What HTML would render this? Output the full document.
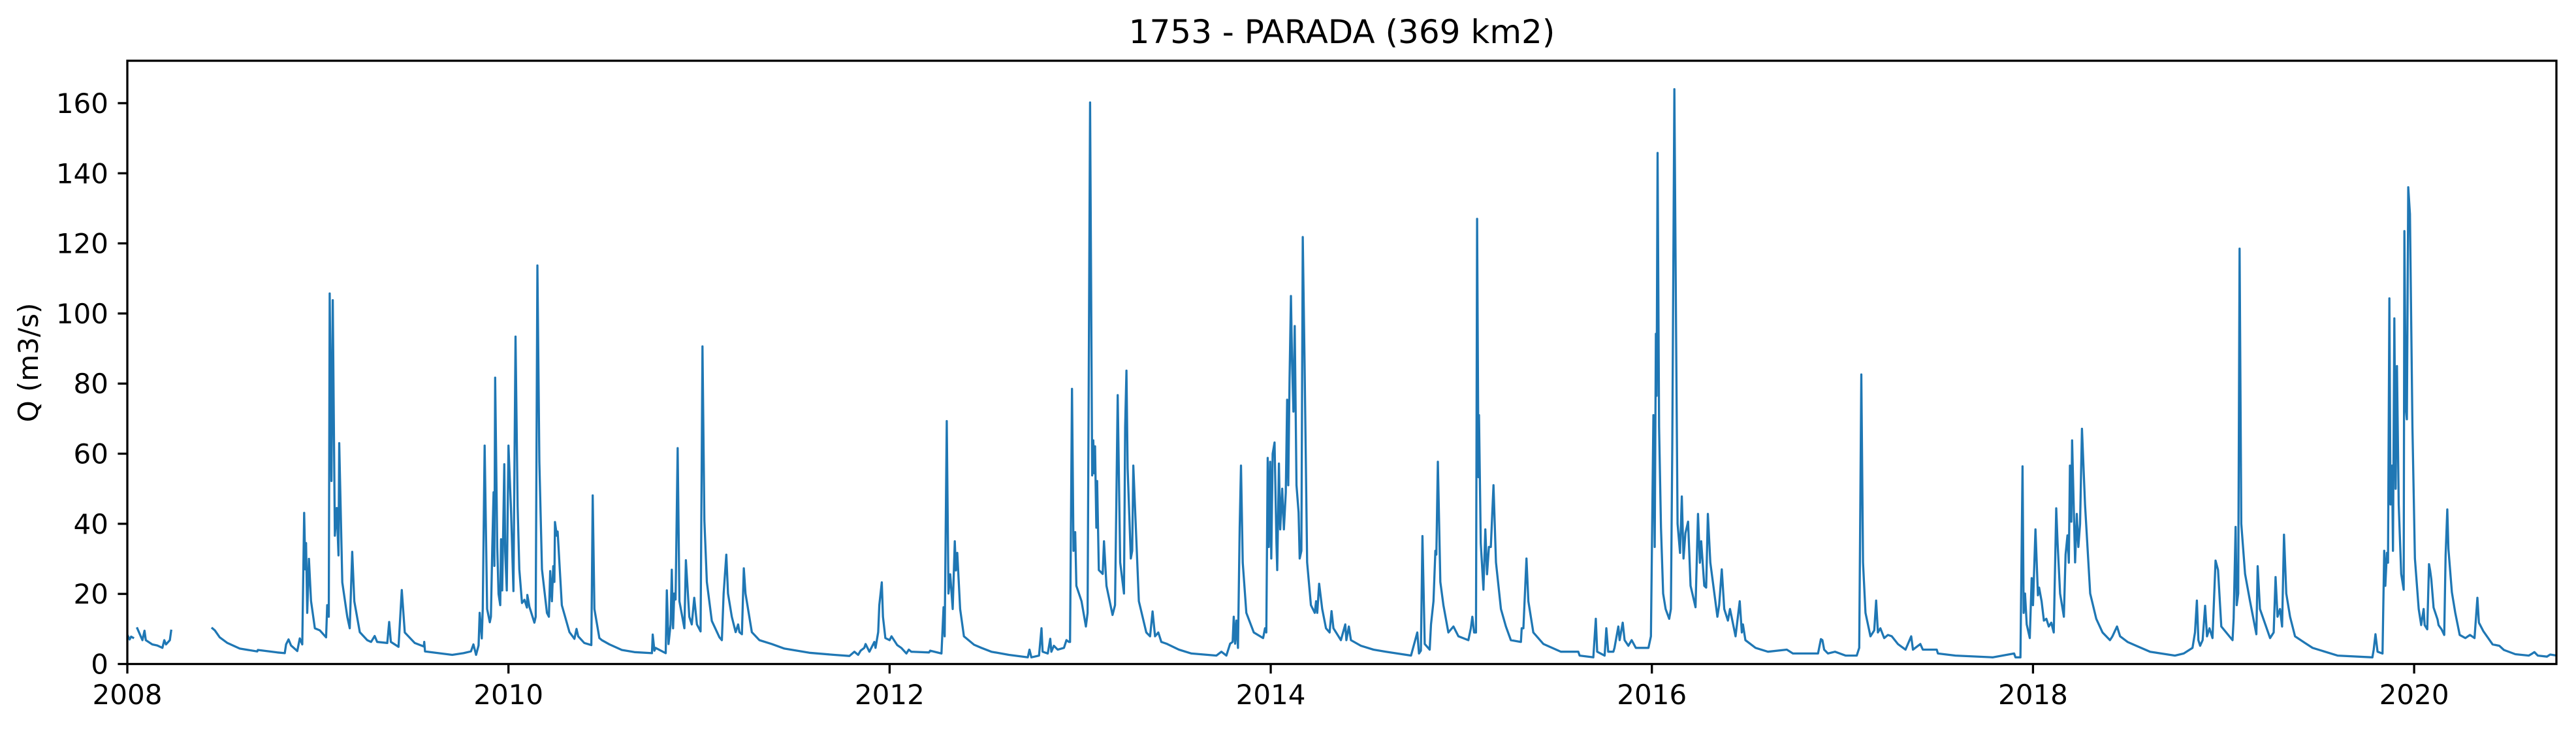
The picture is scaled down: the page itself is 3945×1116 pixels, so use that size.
<!DOCTYPE html>
<html><head><meta charset="utf-8"><title>1753 - PARADA (369 km2)</title>
<style>html,body{margin:0;padding:0;background:#fff}svg{display:block}text{font-family:"DejaVu Sans","Liberation Sans",sans-serif;fill:#000}</style>
</head><body>
<svg id="chart" width="3945" height="1116" viewBox="0 0 3945 1116" xmlns="http://www.w3.org/2000/svg">
<rect x="0" y="0" width="3945" height="1116" fill="#fff"/>
<text x="2055" y="66" font-size="50" text-anchor="middle">1753 - PARADA (369 km2)</text>
<text transform="translate(58,555) rotate(-90)" font-size="42" text-anchor="middle">Q (m3/s)</text>
<g id="xticks"></g>
<g id="yticks"></g>
<clipPath id="clip"><rect x="195" y="93" width="3720" height="923.5"/></clipPath>
<path id="series" clip-path="url(#clip)" fill="none" stroke="#1f77b4" stroke-width="3.3" stroke-linejoin="round" stroke-linecap="square"/>
<rect x="195" y="93" width="3720" height="923.5" fill="none" stroke="#000" stroke-width="3.3"/>
</svg>
<script>
const xTickYears = [2008, 2010, 2012, 2014, 2016, 2018, 2020];
const xTickLabels = ["2008", "2010", "2012", "2014", "2016", "2018", "2020"];
const yTickValues = [0, 20, 40, 60, 80, 100, 120, 140, 160];
const yTickLabels = ["0", "20", "40", "60", "80", "100", "120", "140", "160"];
const dates = [
2008.003,2008.012,2008.020,2008.030,2008.040,
2008.052,2008.079,2008.090,2008.097,2008.131,2008.157,2008.184,2008.194,2008.203,2008.223,2008.230,2008.300,
2008.446,2008.459,2008.485,2008.525,2008.590,2008.682,2008.685,2008.787,2008.826,2008.833,2008.846,2008.859,2008.892,2008.905,2008.918,2008.928,2008.934,2008.938,2008.944,2008.953,2008.964,2008.984,
2009.010,2009.043,2009.049,2009.057,2009.062,2009.071,2009.078,2009.089,2009.099,2009.108,2009.112,2009.128,2009.154,2009.167,2009.180,2009.191,2009.220,2009.259,2009.279,2009.298,2009.311,2009.364,2009.374,2009.383,2009.423,2009.440,2009.456,2009.508,2009.556,2009.558,2009.562,2009.705,2009.764,2009.803,2009.816,2009.830,2009.843,2009.849,2009.860,2009.865,2009.875,2009.888,2009.902,2009.908,2009.915,2009.922,2009.926,2009.930,2009.941,2009.948,2009.957,2009.961,2009.967,2009.978,2009.983,2009.991,
2010.000,2010.013,2010.026,2010.037,2010.048,2010.057,2010.071,2010.084,2010.097,2010.099,2010.110,2010.136,2010.143,2010.152,2010.162,2010.176,2010.202,2010.212,2010.219,2010.228,2010.235,2010.241,2010.244,2010.254,2010.258,2010.280,2010.320,2010.346,2010.357,2010.366,2010.398,2010.435,2010.442,2010.451,2010.477,2010.490,2010.530,2010.595,2010.661,2010.753,2010.757,2010.766,2010.772,2010.825,2010.831,2010.840,2010.851,2010.857,2010.864,2010.870,2010.877,2010.888,2010.897,2010.923,2010.931,2010.949,2010.962,2010.975,2010.989,
2011.008,2011.018,2011.028,2011.041,2011.067,2011.107,2011.120,2011.129,2011.143,2011.152,2011.172,2011.192,2011.205,2011.212,2011.225,2011.235,2011.244,2011.277,2011.317,2011.382,2011.448,2011.579,2011.710,2011.789,2011.815,2011.835,2011.848,2011.867,2011.874,2011.894,2011.920,2011.926,2011.940,2011.946,2011.959,2011.965,2011.978,
2012.000,2012.010,2012.040,2012.061,2012.088,2012.101,2012.114,2012.207,2012.213,2012.272,2012.283,2012.289,2012.300,2012.309,2012.318,2012.331,2012.342,2012.348,2012.355,2012.370,2012.390,2012.443,2012.482,2012.534,2012.626,2012.725,2012.734,2012.744,2012.784,2012.797,2012.803,2012.830,2012.843,2012.849,2012.862,2012.882,2012.915,2012.928,2012.941,2012.947,2012.957,2012.965,2012.974,2012.980,
2013.007,2013.030,2013.039,2013.052,2013.063,2013.069,2013.074,2013.078,2013.085,2013.089,2013.098,2013.118,2013.125,2013.138,2013.170,2013.183,2013.197,2013.210,2013.230,2013.236,2013.243,2013.249,2013.266,2013.273,2013.279,2013.308,2013.347,2013.367,2013.380,2013.393,2013.410,2013.426,2013.453,2013.518,2013.584,2013.715,2013.741,2013.767,2013.787,2013.800,2013.806,2013.813,2013.820,2013.828,2013.837,2013.844,2013.853,2013.872,2013.911,2013.960,2013.970,2013.977,2013.984,2013.990,2013.997,
2014.003,2014.010,2014.020,2014.030,2014.034,2014.043,2014.050,2014.060,2014.069,2014.079,2014.086,2014.092,2014.099,2014.106,2014.112,2014.119,2014.126,2014.135,2014.146,2014.152,2014.161,2014.168,2014.178,2014.191,2014.211,2014.231,2014.238,2014.244,2014.254,2014.270,2014.290,2014.309,2014.319,2014.329,2014.368,2014.391,2014.397,2014.410,2014.421,2014.473,2014.539,2014.605,2014.736,2014.769,2014.778,2014.788,2014.796,2014.808,2014.834,2014.841,2014.854,2014.864,2014.869,2014.877,2014.890,2014.906,2014.932,2014.959,2014.985,
2015.037,2015.050,2015.058,2015.067,2015.077,2015.083,2015.090,2015.093,2015.102,2015.116,2015.126,2015.135,2015.145,2015.155,2015.169,2015.182,2015.208,2015.234,2015.260,2015.313,2015.317,2015.326,2015.342,2015.352,2015.378,2015.431,2015.523,2015.614,2015.621,2015.693,2015.706,2015.713,2015.752,2015.761,2015.771,2015.798,2015.804,2015.824,2015.831,2015.847,2015.857,2015.877,2015.894,2015.916,2015.982,2015.995,
2016.008,2016.015,2016.021,2016.025,2016.030,2016.038,2016.048,2016.059,2016.072,2016.091,2016.100,2016.107,2016.118,2016.127,2016.135,2016.148,2016.157,2016.166,2016.176,2016.190,2016.203,2016.229,2016.242,2016.252,2016.259,2016.275,2016.285,2016.294,2016.307,2016.344,2016.353,2016.367,2016.380,2016.399,2016.410,2016.439,2016.461,2016.472,2016.478,2016.491,2016.544,2016.609,2016.708,2016.740,2016.872,2016.887,2016.895,2016.904,2016.924,2016.961,
2017.016,2017.075,2017.088,2017.099,2017.108,2017.121,2017.147,2017.167,2017.177,2017.186,2017.199,2017.219,2017.239,2017.259,2017.291,2017.331,2017.361,2017.370,2017.409,2017.422,2017.495,2017.501,2017.593,2017.790,2017.901,2017.908,2017.934,2017.945,2017.951,2017.958,2017.967,2017.983,2017.993,
2018.000,2018.013,2018.026,2018.032,2018.045,2018.057,2018.070,2018.083,2018.096,2018.109,2018.122,2018.129,2018.142,2018.162,2018.171,2018.181,2018.188,2018.194,2018.201,2018.205,2018.221,2018.230,2018.238,2018.247,2018.257,2018.273,2018.300,2018.332,2018.365,2018.404,2018.417,2018.441,2018.457,2018.496,2018.542,2018.614,2018.745,2018.791,2018.837,2018.850,2018.860,2018.868,2018.877,2018.890,2018.903,2018.913,2018.926,2018.942,2018.958,2018.971,2018.988,
2019.047,2019.053,2019.063,2019.069,2019.077,2019.084,2019.093,2019.113,2019.139,2019.172,2019.179,2019.191,2019.244,2019.263,2019.273,2019.283,2019.296,2019.307,2019.317,2019.329,2019.349,2019.362,2019.375,2019.427,2019.467,2019.598,2019.781,2019.788,2019.797,2019.808,2019.834,2019.843,2019.849,2019.857,2019.863,2019.870,2019.876,2019.884,2019.889,2019.896,2019.903,2019.910,2019.919,2019.932,2019.945,2019.949,2019.956,2019.962,2019.969,2019.978,2019.991,
2020.004,2020.024,2020.037,2020.050,2020.055,2020.069,2020.078,2020.084,2020.090,2020.102,2020.123,2020.128,2020.144,2020.158,2020.165,2020.174,2020.180,2020.198,2020.216,2020.239,2020.269,2020.293,2020.317,2020.332,2020.340,2020.364,2020.412,2020.447,2020.471,2020.531,2020.602,2020.620,2020.631,2020.649,2020.697,2020.714,2020.749
];
const flows = [
8.0,7.0,7.8,7.5,null,
10.2,6.8,9.5,6.8,5.6,5.3,4.6,6.8,5.6,6.8,9.5,null,
10.2,9.6,7.6,6.0,4.4,3.6,4.0,3.3,3.1,5.6,7.0,5.3,3.7,7.3,5.6,43.1,27,34.5,14.6,30,18,10.2,
9.6,7.6,16.8,13.5,105.7,52.2,103.8,36.6,44.5,31,63,23.3,13.5,10.2,32,17.9,9.1,6.8,6.3,8.0,6.3,6.0,12,6.3,4.9,21.1,9.0,6.0,5.0,6.3,3.6,2.6,3.1,3.6,5.6,2.6,5.3,14.6,7.3,15.7,62.3,15.7,11.9,13.5,33.3,49,28,81.7,33.3,20,16.8,35.6,21,57,32,21,
62.3,44.5,20.8,93.4,45,27,17.4,18.3,16.1,19.7,16.3,11.8,13.5,113.7,57.6,27,14.6,13.5,26.5,17.9,27.9,23.4,40.5,36.6,37.8,16.8,9.1,7.2,10,7.9,6.0,5.4,48.1,15.7,7.4,6.8,5.6,4.0,3.4,3.1,8.4,3.8,4.6,3.1,21,5.7,11.3,26.9,10.2,20.1,18.4,61.6,17.9,10.2,29.6,13.5,11.3,18.9,11.3,
9.3,90.6,41,23.4,12.3,7.6,6.8,20.1,31.2,20.1,13.5,9.1,11.3,9.1,8.5,27.3,20.1,9.1,6.8,5.7,4.4,3.2,2.6,2.3,3.5,2.6,3.8,4.6,5.7,3.5,6.3,4.6,9.1,16.8,23.3,13.5,7.4,
6.8,7.9,5.4,4.6,3.0,4.1,3.5,3.3,3.8,3.0,16.2,7.9,69.3,20.1,25.6,15.7,35.0,26.7,31.7,15.7,7.9,5.5,4.6,3.5,2.6,1.9,4.1,1.9,2.4,10.2,3.5,3.0,7.2,3.5,5.2,4.1,4.6,6.8,6.3,6.3,78.5,32.3,37.6,22.3,
17.9,10.7,14.6,160.2,53.8,63.8,54.4,62.1,38.9,52.2,26.8,25.7,35,22.3,14,16.8,76.7,29,20.1,67.6,83.7,55.9,30.1,32.3,56.6,17.9,9.0,7.9,15,7.9,9.0,6.3,5.8,4.1,3.0,2.4,3.5,2.4,5.8,6.3,13.5,5.8,12.4,4.6,38.9,56.6,28.9,14.6,9.0,7.4,10.2,9.0,58.8,33.4,57.7,
30.1,60,63.2,34.5,26.8,57.2,38.4,50,38.4,48.9,75.4,51,81.5,105,86.4,72,96.4,51,43.3,30.1,32.3,121.8,84.2,29,16.8,14.6,17.9,14.6,22.9,15.7,10.2,9.0,15.1,10.2,6.8,11.3,6.8,10.7,6.8,5.2,4.1,3.5,2.4,9.0,3.0,3.8,36.5,5.7,4.1,11.3,17.9,32.3,31.2,57.7,23.4,16.8,9.0,10.7,7.9,
6.8,10.2,13.5,9.0,9.0,127,53.3,71,34.5,21.2,38.4,25.6,33.4,33.4,51,29,15.7,10.7,6.8,6.3,10.2,10.2,30.1,17.9,9.0,5.7,3.5,3.5,2.4,1.9,12.9,3.5,2.4,10.2,3.5,3.5,4.6,10.7,6.8,11.8,6.8,5.2,6.8,4.6,4.6,7.9,
71,33.4,94.2,76.5,145.8,67.6,38.9,20.1,15.7,12.9,15.7,62.1,164,95.3,40,31.7,47.8,30.1,37.3,40.6,22.3,16.2,42.8,28.9,35,22.3,21.8,42.8,28.9,13.5,16.8,27,15.7,12.4,15.7,7.9,17.9,9.0,11.3,6.8,4.6,3.5,4.1,3.0,3.0,7.1,6.8,4.1,3.0,3.5,
2.4,2.4,4.6,82.6,29,14.6,7.9,9.6,18.1,9.0,10.2,7.4,8.3,7.9,5.7,4.1,7.9,4.1,5.7,4.1,4.1,3.0,2.4,1.9,3.0,1.9,1.9,56.4,14.6,20.1,11.3,7.4,24.5,
16.8,38.4,19.6,21.8,17.9,12.4,12.9,10.7,11.8,9.0,44.4,34.5,20.1,13.5,31.2,36.7,28.9,56.6,40.6,63.8,29,42.8,33.4,40,67.1,45.5,20.1,12.9,9.0,6.8,7.9,10.7,7.9,6.3,5.2,3.5,2.4,3.0,4.6,9.0,18.1,6.8,5.2,6.8,16.6,7.9,10.2,7.4,29.5,26.8,10.7,
6.8,13.0,39.1,16.8,20.1,118.5,40,25.7,17.9,8.5,27.9,15.7,7.4,9.0,24.8,13.5,15.7,10.7,36.9,20.1,13.5,10.7,7.9,6.0,4.6,2.4,1.9,4.1,8.5,3.5,3.0,32.3,22.3,31.7,28.9,104.3,45.5,56.6,32.3,98.6,50,85,45.5,25.7,21.2,123.5,73.2,69.8,136,128.4,67.6,
30.1,15.7,11.1,15.7,11.1,9.9,28.5,26.7,24.2,16.1,12.7,11.1,9.9,8.3,31,44.1,32.9,20.5,14.6,8.3,7.4,8.3,7.4,18.9,11.8,9.3,5.6,5.2,4.0,2.8,2.4,3.0,3.4,2.4,2.1,2.7,2.4
];

const X0 = 195, X1 = 3915, Y0 = 1016.5, Y1 = 93;
const xMin = 2008.0, xMax = 2020.7466, yMin = 0, yMax = 172.1;
function xScale(v){ return X0 + (v - xMin) / (xMax - xMin) * (X1 - X0); }
function yScale(v){ return Y0 - (v - yMin) / (yMax - yMin) * (Y0 - Y1); }

const NS = "http://www.w3.org/2000/svg";
const xg = document.getElementById('xticks');
xTickYears.forEach((yr, i) => {
  const x = xScale(yr);
  const t = document.createElementNS(NS, 'line');
  t.setAttribute('x1', x); t.setAttribute('x2', x);
  t.setAttribute('y1', Y0); t.setAttribute('y2', Y0 + 14.6);
  t.setAttribute('stroke', '#000'); t.setAttribute('stroke-width', '3.3');
  
  
  xg.appendChild(t);
  const lb = document.createElementNS(NS, 'text');
  lb.setAttribute('x', x); lb.setAttribute('y', 1078);
  lb.setAttribute('font-size', '42'); lb.setAttribute('text-anchor', 'middle');
  lb.textContent = xTickLabels[i];
  
  
  xg.appendChild(lb);
});
const yg = document.getElementById('yticks');
yTickValues.forEach((v, i) => {
  const y = yScale(v);
  const t = document.createElementNS(NS, 'line');
  t.setAttribute('x1', X0 - 14.6); t.setAttribute('x2', X0);
  t.setAttribute('y1', y); t.setAttribute('y2', y);
  t.setAttribute('stroke', '#000'); t.setAttribute('stroke-width', '3.3');
  
  
  yg.appendChild(t);
  const lb = document.createElementNS(NS, 'text');
  lb.setAttribute('x', X0 - 29); lb.setAttribute('y', y + 15);
  lb.setAttribute('font-size', '42'); lb.setAttribute('text-anchor', 'end');
  lb.textContent = yTickLabels[i];
  
  
  yg.appendChild(lb);
});

let d = '', pen = false;
for (let i = 0; i < dates.length; i++) {
  const v = flows[i];
  if (v === null || v === undefined) { pen = false; continue; }
  d += (pen ? 'L' : 'M') + xScale(dates[i]).toFixed(1) + ',' + yScale(v).toFixed(1);
  pen = true;
}
document.getElementById('series').setAttribute('d', d);
</script>
</body></html>
